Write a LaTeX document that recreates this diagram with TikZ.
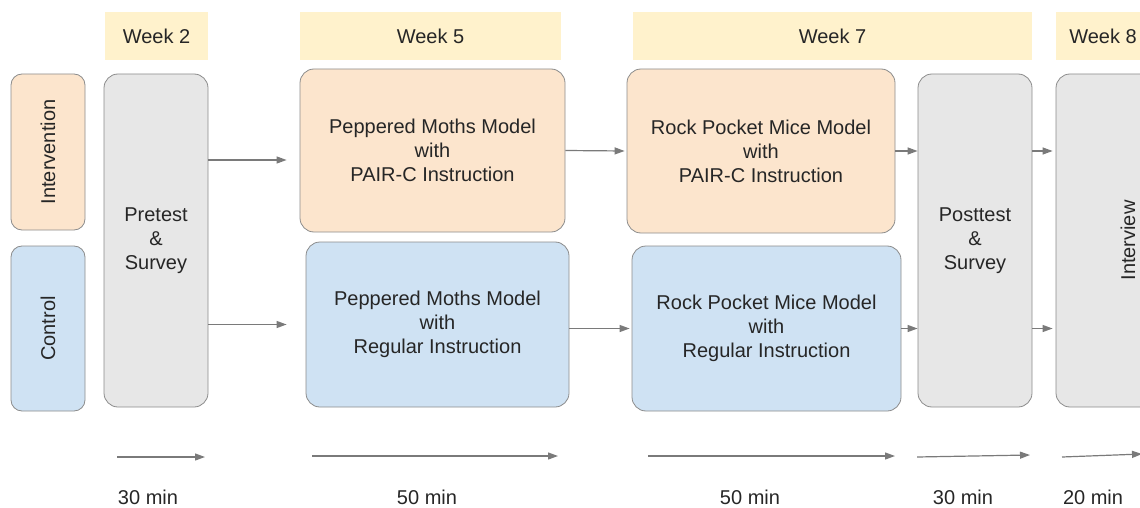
\documentclass[tikz,border=0pt]{standalone}
\usepackage{fontspec}
\setmainfont{Liberation Sans}
\usetikzlibrary{arrows.meta}

\definecolor{hdryellow}{HTML}{FFF2CC}
\definecolor{intorange}{HTML}{FCE5CD}
\definecolor{ctlblue}{HTML}{CFE2F3}
\definecolor{testgray}{HTML}{E7E7E7}
\definecolor{edgegray}{HTML}{8C8C8C}
\definecolor{arrowgray}{HTML}{7A7A7A}

\tikzset{
  week/.style={fill=hdryellow, inner sep=0pt, minimum height=48pt,
    font=\fontsize{20}{24}\selectfont, text=black!85},
  stage/.style={draw=edgegray, line width=0.8pt, rounded corners=14pt,
    inner sep=0pt, align=center, font=\fontsize{20}{24}\selectfont, text=black!85},
  flow/.style={draw=arrowgray, line width=1.2pt, -{Triangle[length=10pt,width=7pt]}},
  dur/.style={font=\fontsize{20}{24}\selectfont, text=black!85},
}

\begin{document}
\begin{tikzpicture}[x=1pt, y=-1pt]
    % page frame (pixel-like units, y grows downward)
    \useasboundingbox (0,0) rectangle (1140,508);

    % Week headers
    \node[week, minimum width=103pt] (wk2) at (156.5,36) {Week 2};
    \node[week, minimum width=261pt] (wk5) at (430.5,36) {Week 5};
    \node[week, minimum width=399pt] (wk7) at (832.5,36) {Week 7};
    \node[week, minimum width=94pt] (wk8) at (1103,36) {Week 8};

    % Group labels (rotated, so width is the vertical extent)
    \node[stage, fill=intorange, rotate=90, rounded corners=11pt,
      minimum width=156pt, minimum height=74pt] (grpint) at (48,152) {Intervention};
    \node[stage, fill=ctlblue, rotate=90, rounded corners=11pt,
      minimum width=165pt, minimum height=74pt] (grpctl) at (48,328.5) {Control};

    % Pretest for both groups
    \node[stage, fill=testgray, minimum width=104pt, minimum height=333pt]
      (pre) at (156,240.5) {Pretest\\\&\\Survey};

    % Week 5 models
    \node[stage, fill=intorange, minimum width=265pt, minimum height=163pt]
      (pmint) at (432.5,150.5) {Peppered Moths Model\\with\\PAIR-C Instruction};
    \node[stage, fill=ctlblue, minimum width=263pt, minimum height=165pt]
      (pmctl) at (437.5,324.5) {Peppered Moths Model\\with\\Regular Instruction};

    % Week 7 models
    \node[stage, fill=intorange, minimum width=268pt, minimum height=164pt]
      (rpint) at (761,151) {Rock Pocket Mice Model\\with\\PAIR-C Instruction};
    \node[stage, fill=ctlblue, minimum width=269pt, minimum height=165pt]
      (rpctl) at (766.5,328.5) {Rock Pocket Mice Model\\with\\Regular Instruction};

    % Posttest and interview
    \node[stage, fill=testgray, minimum width=114pt, minimum height=333pt]
      (post) at (975,240.5) {Posttest\\\&\\Survey};
    \node[stage, fill=testgray, rotate=90, minimum width=333pt, minimum height=144pt]
      (intv) at (1128,240.5) {Interview};

    % Flow between stages
    \draw[flow] ([yshift=-9.5pt]pre.east |- pmint.west) -- ([yshift=-9.5pt,xshift=-13pt]pmint.west);
    \draw[flow] (pre.east |- pmctl.west) -- ([xshift=-19pt]pmctl.west);
    \draw[flow] (pmint.east) -- ([xshift=-2pt]rpint.west);
    \draw[flow] (pmctl.east |- rpctl.west) -- ([xshift=-2pt]rpctl.west);
    \draw[flow] (rpint.east) -- (post.west |- rpint.east);
    \draw[flow] (rpctl.east) -- (post.west |- rpctl.east);
    \draw[flow] (post.east |- rpint.east) -- ([xshift=-3pt]intv.north |- rpint.east);
    \draw[flow] (post.east |- rpctl.east) -- ([xshift=-3pt]intv.north |- rpctl.east);

    % Time line at the bottom
    \coordinate (t1s) at (117,457);  \coordinate (t1e) at (205,457);
    \coordinate (t2s) at (312,456);  \coordinate (t2e) at (558,456);
    \coordinate (t3s) at (648,456);  \coordinate (t3e) at (895,456);
    \coordinate (t4s) at (917,457);  \coordinate (t4e) at (1030,455);
    \coordinate (t5s) at (1062,457); \coordinate (t5e) at (1142,454);
    \draw[flow] (t1s) -- (t1e);
    \draw[flow] (t2s) -- (t2e);
    \draw[flow] (t3s) -- (t3e);
    \draw[flow] (t4s) -- (t4e);
    \draw[flow] (t5s) -- (t5e);

    % Durations
    \node[dur] (d1) at (148,497) {30 min};
    \node[dur] (d2) at (427,497) {50 min};
    \node[dur] (d3) at (750,497) {50 min};
    \node[dur] (d4) at (963,497) {30 min};
    \node[dur] (d5) at (1093,497) {20 min};
\end{tikzpicture}
\end{document}
